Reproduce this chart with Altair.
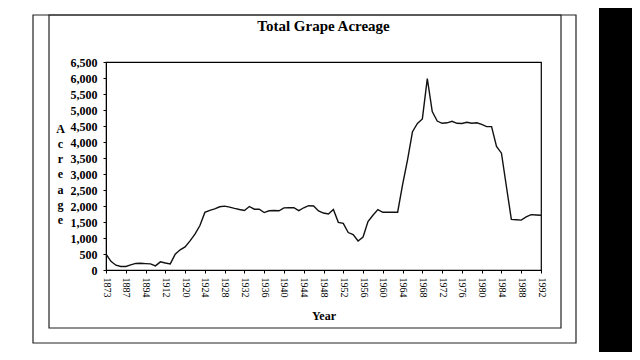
import altair as alt
import pandas as pd

years = [
    "1873", "1877", "1880", "1884", "1887", "1889", "1891", "1892", "1894",
    "1898", "1902", "1907", "1912", "1914", "1916", "1918",
] + [str(y) for y in range(1920, 1993)]

acreage = [
    500, 270, 150, 110, 110, 160, 205, 210, 200, 190, 130, 255, 220, 190, 495, 630,
    720, 910, 1120, 1390, 1800, 1865, 1910, 1975, 1995, 1965, 1925, 1890, 1860, 1985,
    1900, 1898, 1795, 1850, 1860, 1850, 1940, 1950, 1945, 1855, 1945, 2010, 2000, 1845,
    1780, 1750, 1890, 1490, 1455, 1170, 1110, 905, 1030, 1515, 1710, 1890, 1805, 1805,
    1805, 1805, 2665, 3440, 4320, 4580, 4720, 5980, 4950, 4655, 4585, 4600, 4645, 4585,
    4580, 4615, 4585, 4600, 4550, 4480, 4480, 3860, 3650, 2610, 1580, 1570, 1560, 1660,
    1730, 1720, 1710,
]

x_labels = years[::4]
y_ticks = list(range(0, 6501, 500))
chart_title = "Total Grape Acreage"

df = pd.DataFrame({"Year": years, "Acreage": acreage})

SERIF = "Liberation Serif"
W, H = 435, 208

line = alt.Chart(df).mark_line(color="#111111", strokeWidth=1.4).encode(
    x=alt.X(
        "Year:O",
        sort=years,
        scale=alt.Scale(type="point", padding=0),
        axis=alt.Axis(
            values=x_labels,
            labelAngle=90,
            labelFont=SERIF,
            labelFontSize=10,
            labelColor="black",
            labelPadding=4,
            tickSize=3,
            tickColor="black",
            domainColor="black",
            title="Year",
            titleFont=SERIF,
            titleFontSize=12,
            titleFontWeight="bold",
            titleColor="black",
            titleY=49,
            titleBaseline="alphabetic",
        ),
    ),
    y=alt.Y(
        "Acreage:Q",
        scale=alt.Scale(domain=[0, 6500], nice=False),
        axis=alt.Axis(
            values=y_ticks,
            format=",d",
            labelFont=SERIF,
            labelFontSize=12,
            labelFontWeight="bold",
            labelColor="black",
            labelPadding=6,
            tickSize=3,
            tickColor="black",
            domainColor="black",
            grid=False,
            title=["A", "c", "r", "e", "a", "g", "e"],
            titleAngle=0,
            titleX=-46,
            titleY=66,
            titleAlign="center",
            titleBaseline="middle",
            titleLineHeight=15.3,
            titleFont=SERIF,
            titleFontSize=12,
            titleFontWeight="bold",
            titleColor="black",
        ),
    ),
)

one = alt.Data(values=[{"k": 1}])

outer = alt.Chart(one).mark_rect(fill=None, stroke="#222222", strokeWidth=1.2).encode(
    x=alt.value(-73), x2=alt.value(470), y=alt.value(-47), y2=alt.value(281)
)
inner = alt.Chart(one).mark_rect(fill=None, stroke="#222222", strokeWidth=1.2).encode(
    x=alt.value(-57), x2=alt.value(455), y=alt.value(-47), y2=alt.value(266)
)
strip = alt.Chart(one).mark_rect(fill="black", stroke=None).encode(
    x=alt.value(493), x2=alt.value(530), y=alt.value(-54), y2=alt.value(290)
)
title_text = alt.Chart(one).mark_text(
    text=chart_title,
    font=SERIF,
    fontSize=15,
    fontWeight="bold",
    color="black",
    align="center",
    baseline="alphabetic",
).encode(x=alt.value(W / 2), y=alt.value(-31))

chart = (
    alt.layer(strip, outer, inner, title_text, line)
    .properties(
        width=W,
        height=H,
        autosize=alt.AutoSizeParams(type="none"),
        padding={"left": 98, "top": 54, "right": 91, "bottom": 82},
        background="white",
    )
    .configure_view(stroke="black", strokeWidth=1.2)
)

chart.save("out.html", embed_options={"renderer": "svg", "actions": False})
